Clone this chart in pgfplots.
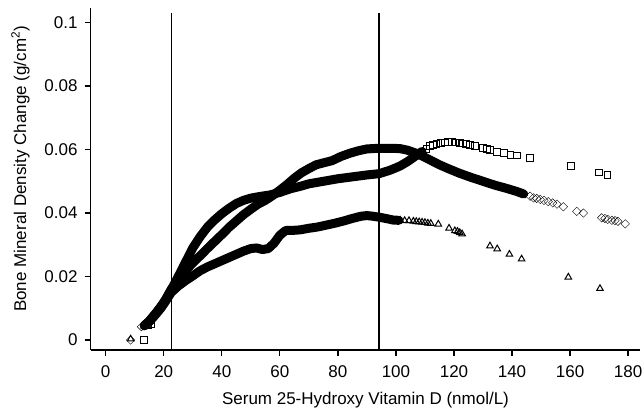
\documentclass[border=0pt]{standalone}
\usepackage{pgfplots}
\pgfplotsset{compat=1.18}
\usepackage{pgfplotstable}
\usepackage{fontspec}
\setmainfont{Liberation Sans}

% dense part of each curve (drawn as a thick band); sparse tails as marks
\pgfplotstableread{
x y
13.3 0.0045
15 0.0058
17 0.0080
19 0.0105
20.5 0.0125
22.6 0.0158
25 0.0200
27.5 0.0245
30 0.0290
32.5 0.0325
35 0.0355
37.5 0.0378
40 0.0398
42.5 0.0415
45 0.0430
47.5 0.0440
50 0.0447
53 0.0452
56.6 0.0457
60 0.0465
63.5 0.0476
67 0.0484
70 0.0492
75 0.0500
80 0.0508
85 0.0514
90 0.0520
94.2 0.0524
98 0.0535
101.4 0.0548
104 0.0562
106.5 0.0578
109 0.0594
}\sqband
\pgfplotstableread{
x y
13.3 0.0045
15 0.0060
17 0.0082
19 0.0105
20.5 0.0125
22.6 0.0160
25 0.0190
27.5 0.0218
30 0.0243
32.5 0.0265
35 0.0288
37.5 0.0310
40 0.0332
42.5 0.0355
45 0.0375
47.5 0.0395
50 0.0412
52.5 0.0428
55 0.0440
57.5 0.0455
60 0.0472
62.5 0.0490
65 0.0510
67.5 0.0527
70 0.0540
72.5 0.0552
75 0.0558
78 0.0565
81 0.0578
84 0.0588
87 0.0596
90 0.0602
94 0.0604
98 0.0604
101.4 0.0603
104 0.0598
106.5 0.0590
109 0.0580
112 0.0566
115 0.0552
118 0.0540
122 0.0525
126 0.0512
130 0.0500
134 0.0488
138 0.0478
141.6 0.0468
144 0.0460
}\diaband
\pgfplotstableread{
x y
13.3 0.0045
15 0.0058
17 0.0078
19 0.0100
20.5 0.0120
22.6 0.0150
25 0.0170
27.5 0.0187
30 0.0202
32.5 0.0218
35 0.0230
37.5 0.0240
40 0.0250
42.5 0.0260
45 0.0270
47.5 0.0280
50 0.0288
52 0.0290
54 0.0285
56 0.0288
58 0.0305
60 0.0330
62 0.0345
64 0.0345
67 0.0347
70 0.0352
73 0.0356
76 0.0362
79 0.0368
82 0.0375
85 0.0383
88 0.0390
90 0.0392
92 0.0390
94.2 0.0387
97 0.0382
99 0.0378
101 0.0377
}\triband

\begin{document}
\begin{tikzpicture}
\useasboundingbox (-90.7pt,-63pt) rectangle (553.3pt,350pt);
\begin{axis}[
    scale only axis,
    width=549.6pt, height=341.7pt,
    xmin=-5.17, xmax=184.2,
    ymin=-0.00315, ymax=0.1045,
    axis x line*=bottom, axis y line*=left,
    axis line style={-, line width=1.3pt},
    tick align=outside,
    major tick length=6pt,
    tick style={line width=1.3pt, black},
    xtick={0,20,40,60,80,100,120,140,160,180},
    xticklabels={0,20,40,60,80,100,120,140,160,180},
    ytick={0,0.02,0.04,0.06,0.08,0.1},
    yticklabels={0,0.02,0.04,0.06,0.08,0.1},
    scaled y ticks=false,
    ticklabel style={font=\fontsize{17pt}{20pt}\selectfont},
    yticklabel style={inner sep=0pt, xshift=-7pt},
    xticklabel style={inner sep=0pt, yshift=-9pt},
    label style={font=\fontsize{17pt}{20pt}\selectfont},
    xlabel={Serum 25-Hydroxy Vitamin D (nmol/L)},
    ylabel={Bone Mineral Density Change (g/cm\textsuperscript{2})},
    xlabel style={at={(axis description cs:0.5,0)}, anchor=base, yshift=-54pt},
    ylabel style={at={(axis description cs:-0.1177,0.53)}, anchor=base},
    mark options={solid, line width=1pt},
]
% reference lines
\addplot[line width=1.5pt] coordinates {(22.6,-0.00315) (22.6,0.103)};
\addplot[line width=1.5pt] coordinates {(94.2,-0.00315) (94.2,0.103)};
% dense bands
\addplot[line width=9pt, line join=round, line cap=round] table {\sqband};
\addplot[line width=9pt, line join=round, line cap=round] table {\diaband};
\addplot[line width=9pt, line join=round, line cap=round] table {\triband};
% squares
\addplot[only marks, mark=square, mark size=3.4pt] coordinates {
(13.2,0) (14.7,0.0046) (15.8,0.0050)
(110.5,0.0603) (111.7,0.0611) (112.8,0.0615) (114,0.0618) (115.5,0.0621)
(116.9,0.0622) (118,0.0623) (119.2,0.0624) (120.5,0.0622) (122.1,0.0620)
(123.2,0.0619) (124.2,0.0618) (125.5,0.0615) (127.3,0.0611) (130.1,0.0604)
(131.3,0.0601) (132.4,0.0599) (134.7,0.0592) (137.3,0.0588) (139.5,0.0583)
(141.6,0.0581) (146.2,0.0573) (160.3,0.0549) (170.1,0.0528) (172.9,0.0520)};
% diamonds
\addplot[only marks, mark=square, mark size=3pt, mark options={rotate=45}] coordinates {
(8.6,0) (12.3,0.0042)
(146.2,0.0453) (147.4,0.0448) (148.5,0.0446) (149.7,0.0443) (151,0.0440)
(152.5,0.0436) (154,0.0432) (155.5,0.0428) (157.7,0.0420) (162.3,0.0405)
(164.6,0.0400) (170.9,0.0385) (172,0.0383) (173,0.0380) (174.4,0.0377)
(175.5,0.0376) (176.5,0.0374) (179,0.0366)};
% triangles
\addplot[only marks, mark=triangle, mark size=3.8pt] coordinates {
(8.6,0.0003)
(101.5,0.0377) (103,0.0376) (104.5,0.0376) (106,0.0374) (107,0.0373)
(108,0.0372) (109,0.0371) (110,0.0370) (111,0.0368) (112,0.0367)
(114.6,0.0365) (118.3,0.0352) (120.3,0.0344) (121.2,0.0342) (122,0.0338)
(122.8,0.0334) (132.4,0.0296) (134.9,0.0287) (139.1,0.0270) (143.3,0.0255)
(159.4,0.0198) (170.3,0.0162)};
\end{axis}
\end{tikzpicture}
\end{document}
